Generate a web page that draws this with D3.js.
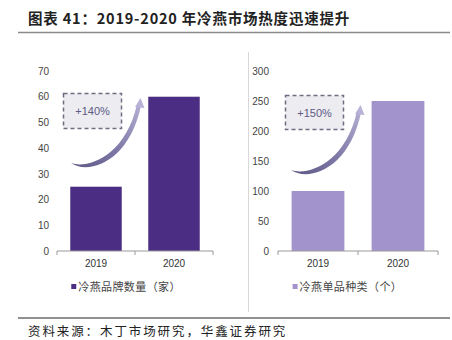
<!DOCTYPE html>
<html><head><meta charset="utf-8">
<script src="https://cdn.jsdelivr.net/npm/d3@7"></script>
<style>body{margin:0;background:#fff}svg{display:block}</style>
</head><body><svg id="c" width="452" height="340"></svg>
<script>
const categories = ["2019", "2020"];
const brandCounts = [25, 60];
const productCounts = [100, 250];
const leftTicks = [0, 10, 20, 30, 40, 50, 60, 70];
const rightTicks = [0, 50, 100, 150, 200, 250, 300];
const growthLabels = ["+140%", "+150%"];
const legendLabels = ["冷燕品牌数量（家）", "冷燕单品种类（个）"];
const titleText = "图表 41：2019-2020 年冷燕市场热度迅速提升";
const sourceText = "资料来源：木丁市场研究，华鑫证券研究";

const svg = d3.select("#c");
const cjk = "'Noto Sans CJK SC', sans-serif";
const num = "'Liberation Sans', Arial, sans-serif";

// title
svg.append("text").attr("x", 28).attr("y", 24).attr("font-family", cjk).attr("font-weight", "bold")
  .attr("font-size", 14.5).attr("letter-spacing", 0.8).attr("fill", "#222").text(titleText);
svg.append("line").attr("x1", 18).attr("x2", 450).attr("y1", 32.5).attr("y2", 32.5)
  .attr("stroke", "#8a8a8a").attr("stroke-width", 1.5);
// footer
svg.append("line").attr("x1", 18).attr("x2", 450).attr("y1", 318).attr("y2", 318)
  .attr("stroke", "#222").attr("stroke-width", 1);
svg.append("text").attr("x", 28).attr("y", 336).attr("font-family", cjk)
  .attr("font-size", 12.5).attr("letter-spacing", 1.9).attr("fill", "#222").text(sourceText);
// separator
svg.append("line").attr("x1", 248.5).attr("x2", 248.5).attr("y1", 52).attr("y2", 312)
  .attr("stroke", "#d8d8d8").attr("stroke-width", 1);

const defs = svg.append("defs");

function panel(opt) {
  const {x0, x1, values, ticks, max, color, labelRight, growth, legend, box, arrow, idx} = opt;
  const g = svg.append("g");
  const y = d3.scaleLinear().domain([0, max]).range([251, 71]);
  const x = d3.scaleBand().domain(categories).range([x0, x1]).paddingInner(0.34).paddingOuter(0.17);

  // y labels
  const yAxis = d3.axisLeft(y).tickValues(ticks).tickSize(0).tickPadding(0);
  const ya = g.append("g").attr("transform", `translate(${labelRight},0)`).call(yAxis);
  ya.select(".domain").remove();
  ya.selectAll("text").attr("font-family", num).attr("font-size", 10).attr("fill", "#444");

  // bars
  g.selectAll("rect.bar").data(values).enter().append("rect")
    .attr("x", (d, i) => x(categories[i])).attr("width", x.bandwidth())
    .attr("y", d => y(d)).attr("height", d => y(0) - y(d)).attr("fill", color);

  // x axis
  const xAxis = d3.axisBottom(x).tickSize(0).tickPadding(9);
  const xa = g.append("g").attr("transform", `translate(0,${y(0)})`).call(xAxis);
  xa.select(".domain").attr("stroke", "#999").attr("d", `M${x0},0H${x1}`);
  xa.selectAll("text").attr("font-family", num).attr("font-size", 10).attr("fill", "#333");
  [x0, (x0 + x1) / 2, x1].forEach(t => {
    xa.append("line").attr("x1", t).attr("x2", t).attr("y1", 0).attr("y2", 4).attr("stroke", "#999");
  });

  // legend
  const lx = x(categories[0]) + 1;
  g.append("rect").attr("x", lx).attr("y", 284).attr("width", 5).attr("height", 5).attr("fill", color);
  g.append("text").attr("x", lx + 7).attr("y", 291).attr("font-family", cjk).attr("font-size", 11)
    .attr("letter-spacing", 0.4).attr("fill", "#444").text(legend);

  // growth box
  g.append("rect").attr("x", box[0]).attr("y", box[1]).attr("width", box[2]).attr("height", box[3])
    .attr("fill", "#ececf1").attr("stroke", "#6e6c80").attr("stroke-width", 1.5)
    .attr("stroke-dasharray", "4,3");
  g.append("text").attr("x", box[0] + box[2] / 2).attr("y", box[1] + box[3] / 2 + 4)
    .attr("text-anchor", "middle").attr("font-family", num).attr("font-size", 11)
    .attr("fill", "#5e5a84").text(growth);

  // arrow (tapered crescent)
  const gid = "ag" + idx;
  const [sx, sy] = arrow.s, [ex, ey] = arrow.e;
  const grad = defs.append("linearGradient").attr("id", gid)
    .attr("gradientUnits", "userSpaceOnUse")
    .attr("x1", sx).attr("y1", sy).attr("x2", ex).attr("y2", ey);
  grad.append("stop").attr("offset", "0").attr("stop-color", "#5f5a88");
  grad.append("stop").attr("offset", "0.45").attr("stop-color", "#7d78a6");
  grad.append("stop").attr("offset", "1").attr("stop-color", "#b7b2d6");
  const bx = ex - 1, by = ey + 6;
  const p = d3.path();
  p.moveTo(sx, sy);
  p.bezierCurveTo(sx + 17, sy + 12, bx - 10, by + 58, bx + 2.2, by);
  p.lineTo(bx - 2.2, by);
  p.bezierCurveTo(bx - 14, by + 52, sx + 16, sy + 6, sx, sy);
  p.closePath();
  g.append("path").attr("d", p.toString()).attr("fill", `url(#${gid})`);
  g.append("path").attr("d", `M${ex - 5},${ey + 8}L${ex + 0.5},${ey - 1}L${ex + 4.5},${ey + 9}Z`)
    .attr("fill", "#b7b2d6");
}

panel({x0: 57, x1: 213, values: brandCounts, ticks: leftTicks, max: 70, color: "#4b2d84",
  labelRight: 49, growth: growthLabels[0], legend: legendLabels[0],
  box: [63.5, 93.5, 58, 35], arrow: {s: [71, 163], e: [140, 99]}, idx: 0});
panel({x0: 278, x1: 438, values: productCounts, ticks: rightTicks, max: 300, color: "#a393cd",
  labelRight: 269, growth: growthLabels[1], legend: legendLabels[1],
  box: [285.5, 95.5, 58, 34], arrow: {s: [291, 170], e: [360, 106]}, idx: 1});
</script></body></html>
